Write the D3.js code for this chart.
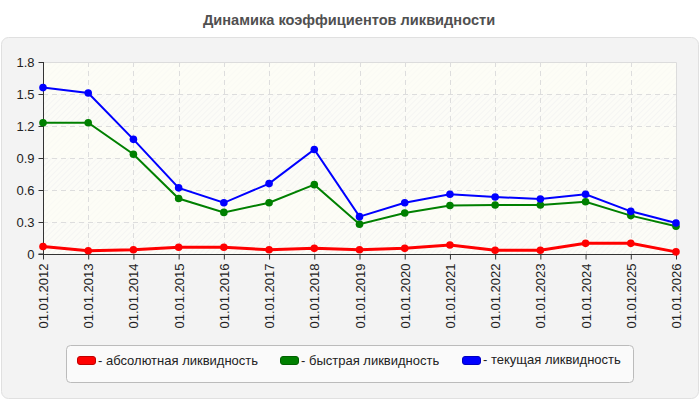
<!DOCTYPE html>
<html><head><meta charset="utf-8">
<script src="https://cdn.jsdelivr.net/npm/d3@7"></script>
<style>body{margin:0;background:#fff;}svg{display:block;font-family:"Liberation Sans",Arial,sans-serif;}</style>
</head><body><svg id="c" width="700" height="400"></svg>
<script>
const categories = ["01.01.2012","01.01.2013","01.01.2014","01.01.2015","01.01.2016","01.01.2017","01.01.2018","01.01.2019","01.01.2020","01.01.2021","01.01.2022","01.01.2023","01.01.2024","01.01.2025","01.01.2026"];
const absoluteLiq = [0.07,0.03,0.04,0.063,0.063,0.04,0.053,0.04,0.053,0.084,0.035,0.035,0.10,0.10,0.02];
const quickLiq = [1.23,1.23,0.935,0.52,0.39,0.48,0.65,0.28,0.385,0.455,0.46,0.46,0.49,0.36,0.26];
const currentLiq = [1.56,1.51,1.075,0.62,0.48,0.66,0.98,0.35,0.48,0.56,0.535,0.515,0.56,0.40,0.29];
const yTicks = [0,0.3,0.6,0.9,1.2,1.5,1.8];
const yTickLabels = ["0","0.3","0.6","0.9","1.2","1.5","1.8"];
const seriesNames = ["- абсолютная ликвидность","- быстрая ликвидность","- текущая ликвидность"];
const seriesColors = ["#ff0000","#008000","#0000ff"];
const title = "Динамика коэффициентов ликвидности";

const svg = d3.select("#c");
const m={l:43,r:676,t:62,b:254};

// panel
svg.append("rect").attr("x",1.5).attr("y",37.5).attr("width",697).attr("height",361).attr("rx",7)
  .attr("fill","#f3f3f3").attr("stroke","#e0e0e0");
svg.append("text").attr("x",349).attr("y",25).attr("text-anchor","middle")
  .attr("font-size",14.6).attr("font-weight","bold").attr("fill","#505050").text(title);

const x=d3.scalePoint().domain(categories).range([m.l,m.r]);
const y=d3.scaleLinear().domain([0,1.8]).range([m.b,m.t]);

// pattern
const defs=svg.append("defs");
const pat=defs.append("pattern").attr("id","hatch").attr("patternUnits","userSpaceOnUse")
  .attr("width",4).attr("height",4).attr("patternTransform","rotate(45)");
pat.append("rect").attr("width",4).attr("height",4).attr("fill","#fcfcf7");
pat.append("line").attr("x1",0).attr("y1",0).attr("x2",0).attr("y2",4).attr("stroke","#efefef").attr("stroke-width",1);

svg.append("rect").attr("x",m.l).attr("y",m.t).attr("width",m.r-m.l).attr("height",m.b-m.t).attr("fill","url(#hatch)");
for(let i=0;i<yTicks.length-1;i++){
  if(i%2===1){
    svg.append("rect").attr("x",m.l).attr("y",y(yTicks[i+1])).attr("width",m.r-m.l)
      .attr("height",y(yTicks[i])-y(yTicks[i+1])).attr("fill","#fdfdf5").attr("opacity",0.6);
  }
}
svg.append("path").attr("d",`M${m.l},${m.t+0.5}H${m.r+0.5}V${m.b}`).attr("fill","none").attr("stroke","#dcdcdc");

// grid
const g=svg.append("g");
g.selectAll(".hg").data(yTicks.slice(1,-1)).enter().append("line")
  .attr("x1",m.l).attr("x2",m.r).attr("y1",d=>Math.round(y(d))+0.5).attr("y2",d=>Math.round(y(d))+0.5)
  .attr("stroke","#dddddd").attr("stroke-dasharray","5,4");
g.selectAll(".vg").data(categories.slice(1,-1)).enter().append("line")
  .attr("y1",m.t).attr("y2",m.b).attr("x1",d=>Math.round(x(d))+0.5).attr("x2",d=>Math.round(x(d))+0.5)
  .attr("stroke","#dddddd").attr("stroke-dasharray","5,4");

// axes
const yAxis=d3.axisLeft(y).tickValues(yTicks).tickFormat((d,i)=>yTickLabels[i]).tickSize(5).tickPadding(4);
const ya=svg.append("g").attr("transform",`translate(${m.l+0.5},0)`).call(yAxis);
ya.select(".domain").attr("stroke","#333").attr("d",`M-5,${m.b}H0V${m.t}`);
ya.selectAll(".tick line").attr("stroke","#333");
ya.selectAll("text").attr("font-size",13).attr("fill","#222").attr("font-family","Liberation Sans, Arial, sans-serif");

const xAxis=d3.axisBottom(x).tickSize(5).tickPadding(4);
const xa=svg.append("g").attr("transform",`translate(0,${m.b+0.5})`).call(xAxis);
xa.select(".domain").attr("stroke","#333").attr("d",`M${m.l},0H${m.r}`);
xa.selectAll(".tick line").attr("stroke","#333");
xa.selectAll("text").attr("font-size",13).attr("fill","#222").attr("font-family","Liberation Sans, Arial, sans-serif")
  .attr("text-anchor","end").attr("dy","0.35em").attr("transform","rotate(-90)").attr("x",-9).attr("y",0);

// series
const series=[currentLiq,quickLiq,absoluteLiq];
const cols=[seriesColors[2],seriesColors[1],seriesColors[0]];
const widths=[2,2,3];
const line=d3.line().x((d,i)=>x(categories[i])).y(d=>y(d));
series.forEach((s,k)=>{
  svg.append("path").datum(s).attr("d",line).attr("fill","none").attr("stroke",cols[k]).attr("stroke-width",widths[k]);
});
series.slice().reverse().forEach((s,k)=>{
  const c=cols[2-k];
  svg.append("g").selectAll("circle").data(s).enter().append("circle")
    .attr("cx",(d,i)=>x(categories[i])).attr("cy",d=>y(d)).attr("r",3.8).attr("fill",c);
});

// legend
svg.append("rect").attr("x",66.5).attr("y",345.5).attr("width",567).attr("height",37).attr("rx",4)
  .attr("fill","#fafafa").attr("stroke","#bbb");
const legX=[77,280,462];
seriesNames.forEach((n,i)=>{
  svg.append("rect").attr("x",legX[i]+0.5).attr("y",356.5).attr("width",18).attr("height",8).attr("rx",2.5)
    .attr("fill",seriesColors[i]).attr("stroke",d3.color(seriesColors[i]).darker(0.8));
  svg.append("text").attr("x",legX[i]+21).attr("y",i===2?364:365).attr("font-size",13).attr("fill","#222").text(n);
});
</script></body></html>
